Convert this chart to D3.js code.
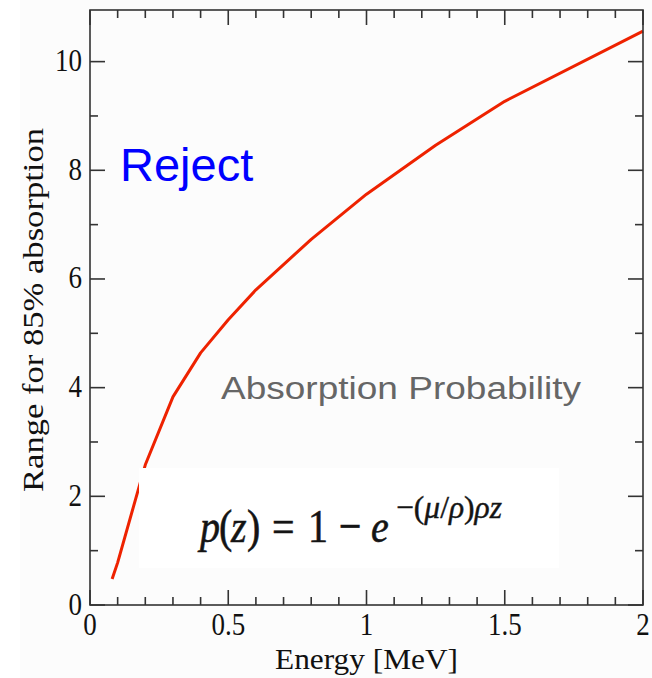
<!DOCTYPE html>
<html><head><meta charset="utf-8">
<script src="https://cdn.jsdelivr.net/npm/d3@7"></script>
<style>body{margin:0;background:#fff}</style></head>
<body><svg id="c" width="652" height="678"></svg>
<script>
// ---- data ----
const energy = [0.08, 0.1, 0.2, 0.3, 0.4, 0.5, 0.6, 0.8, 1.0, 1.25, 1.5, 2.0];
const rangeVals = [0.48, 0.78, 2.58, 3.83, 4.64, 5.25, 5.8, 6.73, 7.56, 8.46, 9.27, 10.56];
const xMajor = [0, 0.5, 1, 1.5, 2];
const xTickLabels = ["0", "0.5", "1", "1.5", "2"];
const yMajor = [0, 2, 4, 6, 8, 10];
const yTickLabels = ["0", "2", "4", "6", "8", "10"];
const xMinor = [0.1,0.2,0.3,0.4,0.6,0.7,0.8,0.9,1.1,1.2,1.3,1.4,1.6,1.7,1.8,1.9];
const yMinor = [1, 3, 5, 7, 9];
const xTitle = "Energy [MeV]";
const yTitle = "Range for 85% absorption";
const rejectLabel = "Reject";
const absLabel = "Absorption Probability";

// ---- layout ----
const L = 90, R = 643, T = 10, B = 605;
const x = d3.scaleLinear().domain([0, 2]).range([L, R]);
const y = d3.scaleLinear().domain([0, 10.95]).range([B, T]);
const svg = d3.select("#c");
const axisCol = "#333";
const serif = "'Liberation Serif','Times New Roman',serif";
const sans = "'Liberation Sans',Arial,sans-serif";

svg.append("rect").attr("x", 20).attr("y", 0).attr("width", 632).attr("height", 678).attr("fill", "#fcfcfc");

// curve
const line = d3.line().x((d, i) => x(energy[i])).y(d => y(d));
svg.append("path").datum(rangeVals).attr("d", line)
  .attr("fill", "none").attr("stroke", "#ee2200").attr("stroke-width", 3)
  .attr("stroke-linejoin", "round");

// white patch behind formula
svg.append("rect").attr("x", 139).attr("y", 468).attr("width", 420).attr("height", 100).attr("fill", "#ffffff");

// formula
const fg = svg.append("g").attr("transform", "translate(0,542) scale(1,1.18)")
  .attr("font-family", serif).attr("fill", "#141414")
  .attr("stroke", "#141414").attr("stroke-width", 0.5);
const parts = [
  {t: "p", x: 200, it: true}, {t: "(", x: 219, it: false}, {t: "z", x: 231, it: true},
  {t: ")", x: 247, it: false}, {t: "=", x: 272, it: false}, {t: "1", x: 308, it: false},
  {t: "\u2212", x: 339, it: false}, {t: "e", x: 371, it: true}
];
parts.forEach(p => {
  fg.append("text").attr("x", p.x).attr("y", 0).attr("font-size", 40)
    .attr("font-style", p.it ? "italic" : "normal").text(p.t);
});
const sup = fg.append("text").attr("x", 396).attr("y", -20).attr("font-size", 27)
  .attr("stroke-width", 0.35)
  .attr("textLength", 106).attr("lengthAdjust", "spacingAndGlyphs");
[["\u2212(", false], ["\u03bc", true], ["/", false], ["\u03c1", true], [")", false], ["\u03c1z", true]]
  .forEach(s => sup.append("tspan").attr("font-style", s[1] ? "italic" : "normal").text(s[0]));

// frame
svg.append("rect").attr("x", L).attr("y", T).attr("width", R - L).attr("height", B - T)
  .attr("fill", "none").attr("stroke", axisCol).attr("stroke-width", 1.6);

const tk = svg.append("g").attr("stroke", axisCol).attr("stroke-width", 1.6);
function xt(v, len) {
  tk.append("line").attr("x1", x(v)).attr("x2", x(v)).attr("y1", B).attr("y2", B - len);
  tk.append("line").attr("x1", x(v)).attr("x2", x(v)).attr("y1", T).attr("y2", T + len);
}
function yt(v, len) {
  tk.append("line").attr("y1", y(v)).attr("y2", y(v)).attr("x1", L).attr("x2", L + len);
  tk.append("line").attr("y1", y(v)).attr("y2", y(v)).attr("x1", R).attr("x2", R - len);
}
xMajor.forEach(v => xt(v, 15));
xMinor.forEach(v => xt(v, 8));
yMajor.forEach(v => yt(v, 15));
yMinor.forEach(v => yt(v, 8));

// tick labels
const lab = svg.append("g").attr("font-family", serif).attr("font-size", 27).attr("fill", "#111");
xMajor.forEach((v, i) => {
  lab.append("text").attr("transform", `translate(${x(v)},635) scale(1,1.2)`)
    .attr("text-anchor", "middle").text(xTickLabels[i]);
});
yMajor.forEach((v, i) => {
  lab.append("text").attr("transform", `translate(82,${y(v) + 9.5}) scale(1,1.2)`)
    .attr("text-anchor", "end").text(yTickLabels[i]);
});

// axis titles
svg.append("text").attr("x", 275).attr("y", 669).attr("font-family", serif).attr("font-size", 30)
  .attr("fill", "#111").attr("textLength", 183).attr("lengthAdjust", "spacingAndGlyphs").text(xTitle);
svg.append("text").attr("transform", "translate(43,492) rotate(-90)").attr("font-family", serif)
  .attr("font-size", 30).attr("fill", "#111").attr("textLength", 364)
  .attr("lengthAdjust", "spacingAndGlyphs").text(yTitle);

// annotations
svg.append("text").attr("x", 120).attr("y", 181).attr("font-family", sans).attr("font-size", 47)
  .attr("fill", "#0000ff").text(rejectLabel);
svg.append("text").attr("x", 221).attr("y", 399).attr("font-family", sans).attr("font-size", 31)
  .attr("fill", "#666666").attr("textLength", 360).attr("lengthAdjust", "spacingAndGlyphs").text(absLabel);
</script></body></html>
